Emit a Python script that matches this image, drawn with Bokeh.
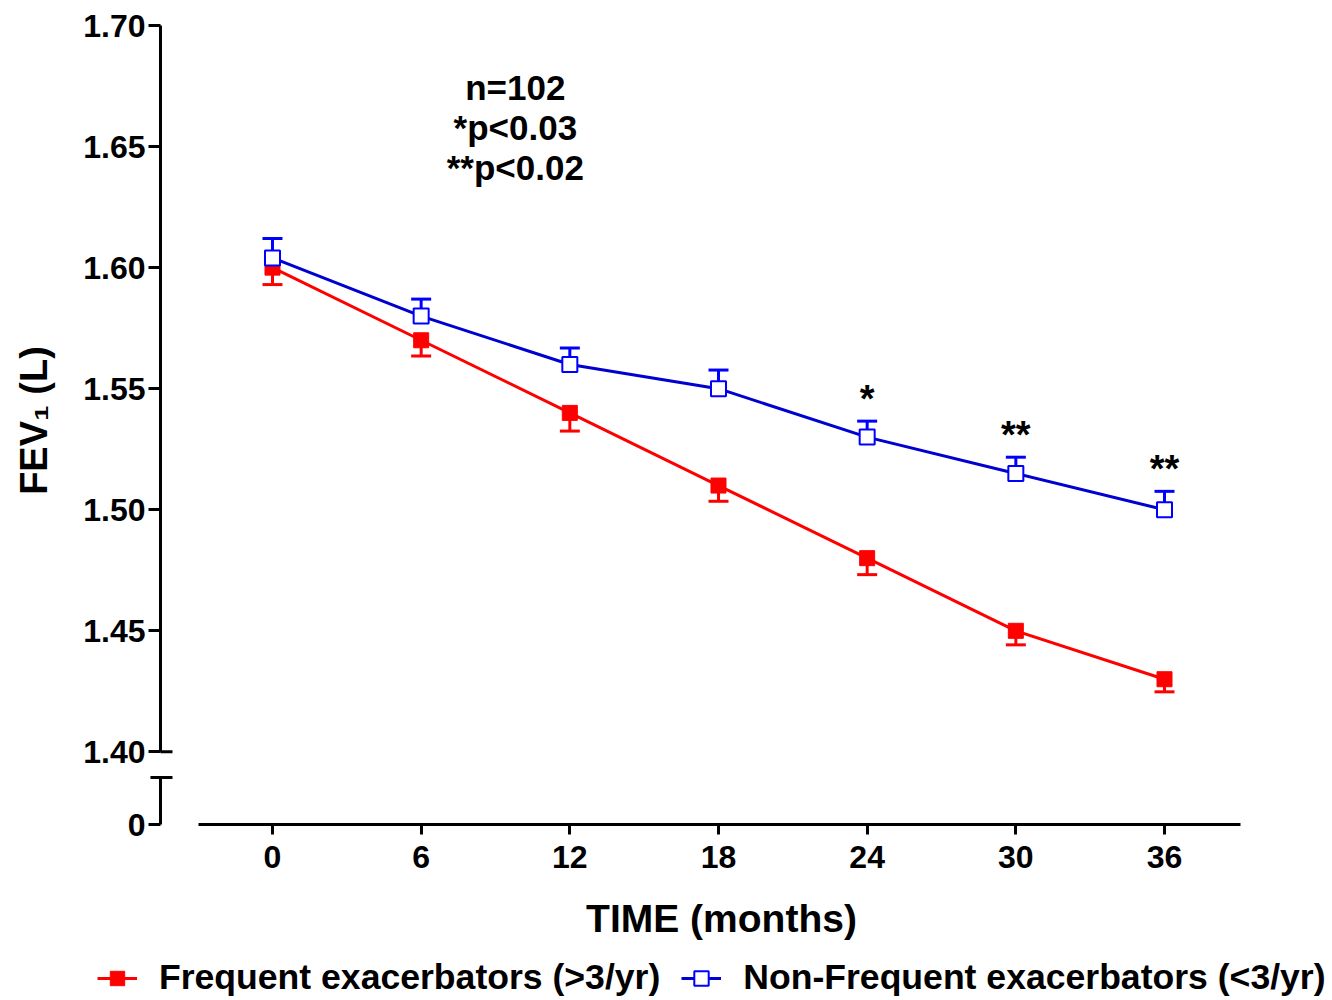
import math
from bokeh.plotting import figure
from bokeh.models import (ColumnDataSource, Whisker, TeeHead, Legend, LegendItem,
                          FixedTicker, Range1d, Label, LinearAxis)
from bokeh.embed import file_html
from bokeh.resources import INLINE
from bokeh.core.properties import value

# ---------------- data ----------------
months = [0, 6, 12, 18, 24, 30, 36]
freq_mean = [1.600, 1.570, 1.540, 1.510, 1.480, 1.450, 1.430]
freq_sem = [0.0070, 0.0065, 0.0075, 0.0065, 0.0068, 0.0058, 0.0052]
nonfreq_mean = [1.604, 1.580, 1.560, 1.550, 1.530, 1.515, 1.500]
nonfreq_sem = [0.0080, 0.0070, 0.0068, 0.0077, 0.0066, 0.0067, 0.0076]
signif = ["", "", "", "", "*", "**", "**"]
series_names = ["Frequent exacerbators (>3/yr)", "Non-Frequent exacerbators (<3/yr)"]
x_ticks = [0, 6, 12, 18, 24, 30, 36]
y_ticks = [1.40, 1.45, 1.50, 1.55, 1.60, 1.65, 1.70]
y_tick_labels = ["1.40", "1.45", "1.50", "1.55", "1.60", "1.65", "1.70"]
zero_label = "0"
annotation_lines = ["n=102", "*p<0.03", "**p<0.02"]
x_title = "TIME (months)"
y_title = "FEV\u2081 (L)"

# ---------------- layout constants ----------------
FONT = "Liberation Sans"
RED = "#FF0000"
BLUE_LINE = "#0000D0"
BLUE = "#0000FF"
W, H = 1332, 1000
Y0 = 1.37            # where the broken axis shows "0"
Y_BREAK = 1.3894     # top of the lower axis stub
X_START, X_END = -10.977, 42.78
Y_START, Y_END = 1.29731, 1.71033
AXIS_X = -4.52       # y-axis position
CAP_L, CAP_R = -4.924, -4.036
X_AXIS_START, X_AXIS_END = -2.99, 39.07

p = figure(width=W, height=H, output_backend="svg", toolbar_location=None,
           x_range=Range1d(X_START, X_END), y_range=Range1d(Y_START, Y_END),
           x_axis_type=None, y_axis_type=None, min_border=0)
p.outline_line_color = None
p.grid.visible = False
p.background_fill_color = "white"

# y axis at a fixed position (line drawn manually for the break)
ya = LinearAxis(fixed_location=AXIS_X)
ya.ticker = FixedTicker(ticks=[Y0] + y_ticks)
overrides = dict(zip(y_ticks, y_tick_labels))
overrides[Y0] = zero_label
ya.major_label_overrides = overrides
ya.axis_line_color = None
ya.major_tick_in = 0
ya.major_tick_out = 12
ya.major_tick_line_width = 3
ya.minor_tick_line_color = None
ya.major_label_standoff = 3
ya.major_label_text_font = FONT
ya.major_label_text_font_style = "bold"
ya.major_label_text_font_size = "32px"
ya.major_label_text_color = "black"
p.add_layout(ya, "left")

xa = LinearAxis(fixed_location=Y0)
xa.ticker = FixedTicker(ticks=x_ticks)
xa.bounds = (X_AXIS_START, X_AXIS_END)
xa.axis_line_width = 3
xa.major_tick_out = 10
xa.major_tick_in = 0
xa.major_tick_line_width = 3
xa.minor_tick_line_color = None
xa.major_label_standoff = 11
xa.major_label_text_font = FONT
xa.major_label_text_font_style = "bold"
xa.major_label_text_font_size = "32px"
xa.major_label_text_color = "black"
p.add_layout(xa, "below")

# broken y-axis line
p.segment(x0=[AXIS_X, AXIS_X, AXIS_X, CAP_L], y0=[1.40, Y0, 1.40, Y_BREAK],
          x1=[AXIS_X, AXIS_X, CAP_R, CAP_R], y1=[1.70, Y_BREAK, 1.40, Y_BREAK],
          line_color="black", line_width=3)

# axis titles
p.add_layout(Label(x=721, y=82, x_units="screen", y_units="screen", text=x_title,
                   text_align="center", text_baseline="middle", text_font=FONT,
                   text_font_style="bold", text_font_size="39px",
                   text_color="black"))
p.add_layout(Label(x=33, y=580, x_units="screen", y_units="screen", text=y_title,
                   angle=math.pi / 2, text_align="center", text_baseline="middle",
                   text_font=FONT, text_font_style="bold", text_font_size="38px",
                   text_color="black"))

# ---------------- series ----------------
src_f = ColumnDataSource(dict(x=months, y=freq_mean,
                              lo=[m - s for m, s in zip(freq_mean, freq_sem)]))
src_n = ColumnDataSource(dict(x=months, y=nonfreq_mean,
                              hi=[m + s for m, s in zip(nonfreq_mean, nonfreq_sem)],
                              t=signif))

wf = Whisker(source=src_f, base="x", lower="lo", upper="y", dimension="height",
             line_color=RED, line_width=3, upper_head=None,
             lower_head=TeeHead(size=20, line_color=RED, line_width=3))
p.add_layout(wf)
lf = p.line("x", "y", source=src_f, line_color=RED, line_width=3)
sf = p.scatter("x", "y", source=src_f, marker="square", size=15,
               fill_color=RED, line_color=RED, line_width=1)

wn = Whisker(source=src_n, base="x", lower="y", upper="hi", dimension="height",
             line_color=BLUE, line_width=3, lower_head=None,
             upper_head=TeeHead(size=20, line_color=BLUE, line_width=3))
p.add_layout(wn)
ln = p.line("x", "y", source=src_n, line_color=BLUE_LINE, line_width=3)
sn = p.scatter("x", "y", source=src_n, marker="square", size=15,
               fill_color="white", line_color=BLUE, line_width=2)

p.text("x", "hi", text="t", source=src_n, text_align="center",
       text_baseline="alphabetic", y_offset=-22, text_font=value(FONT),
       text_font_style="bold", text_font_size="38px", text_color="black")

# annotation block
ann_x = 9.8
ann_y = [1.6743, 1.6578, 1.6413]
p.text(x=[ann_x] * 3, y=ann_y, text=annotation_lines, text_align="center",
       text_baseline="middle", text_font=value(FONT), text_font_style="bold",
       text_font_size="35px", text_color="black")

legend = Legend(items=[LegendItem(label=series_names[0], renderers=[lf, sf]),
                       LegendItem(label=series_names[1], renderers=[ln, sn])],
                orientation="horizontal", location=(97, 2),
                label_text_font=FONT, label_text_font_style="bold",
                label_text_font_size="35.6px", label_text_color="black",
                glyph_width=40, glyph_height=36,
                label_standoff=22, spacing=21, padding=0, margin=0,
                border_line_color=None, background_fill_alpha=0)
p.add_layout(legend, "center")

open("out.html", "w").write(file_html(p, INLINE))
